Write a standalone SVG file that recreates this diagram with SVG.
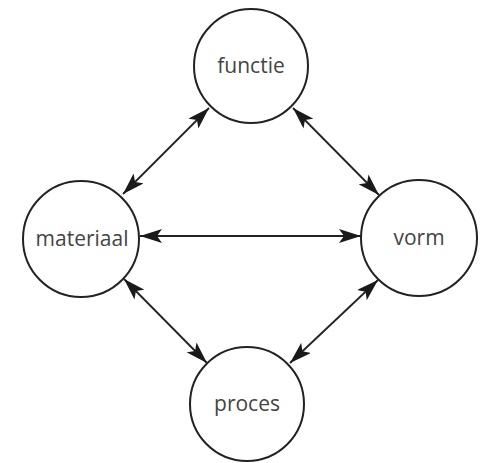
<svg xmlns="http://www.w3.org/2000/svg" width="484" height="463" viewBox="0 0 484 463">
  <defs>
    <style>
      .node circle { fill: #ffffff; stroke: #222222; stroke-width: 2; }
      .node text { font-family: "Open Sans", "Noto Sans", sans-serif; font-size: 21px; fill: #444444; text-anchor: middle; }
      .edge { stroke: #222222; stroke-width: 1.8; fill: none; marker-start: url(#head); marker-end: url(#head); }
    </style>
    <marker id="head" viewBox="0 0 22 14" refX="22" refY="7" markerWidth="22" markerHeight="14" markerUnits="userSpaceOnUse" orient="auto-start-reverse">
      <path d="M0,0 L22,7 L0,14 L5,7 Z" fill="#1a1a1a"/>
    </marker>
  </defs>
  <rect width="484" height="463" fill="#ffffff"/>

  <g id="connectors">
    <line class="edge" x1="209" y1="108" x2="123" y2="194"/>
    <line class="edge" x1="293" y1="108" x2="379" y2="195"/>
    <line class="edge" x1="140" y1="236" x2="361" y2="236"/>
    <line class="edge" x1="124" y1="279" x2="207" y2="363"/>
    <line class="edge" x1="378" y1="280" x2="290" y2="363"/>
  </g>

  <g id="functie" class="node">
    <circle cx="251" cy="66" r="57"/>
    <text x="251" y="73">functie</text>
  </g>
  <g id="materiaal" class="node">
    <circle cx="81" cy="239" r="58"/>
    <text x="82" y="246">materiaal</text>
  </g>
  <g id="vorm" class="node">
    <circle cx="419" cy="238" r="58"/>
    <text x="419" y="245">vorm</text>
  </g>
  <g id="proces" class="node">
    <circle cx="247" cy="404" r="57"/>
    <text x="247" y="411">proces</text>
  </g>
</svg>
